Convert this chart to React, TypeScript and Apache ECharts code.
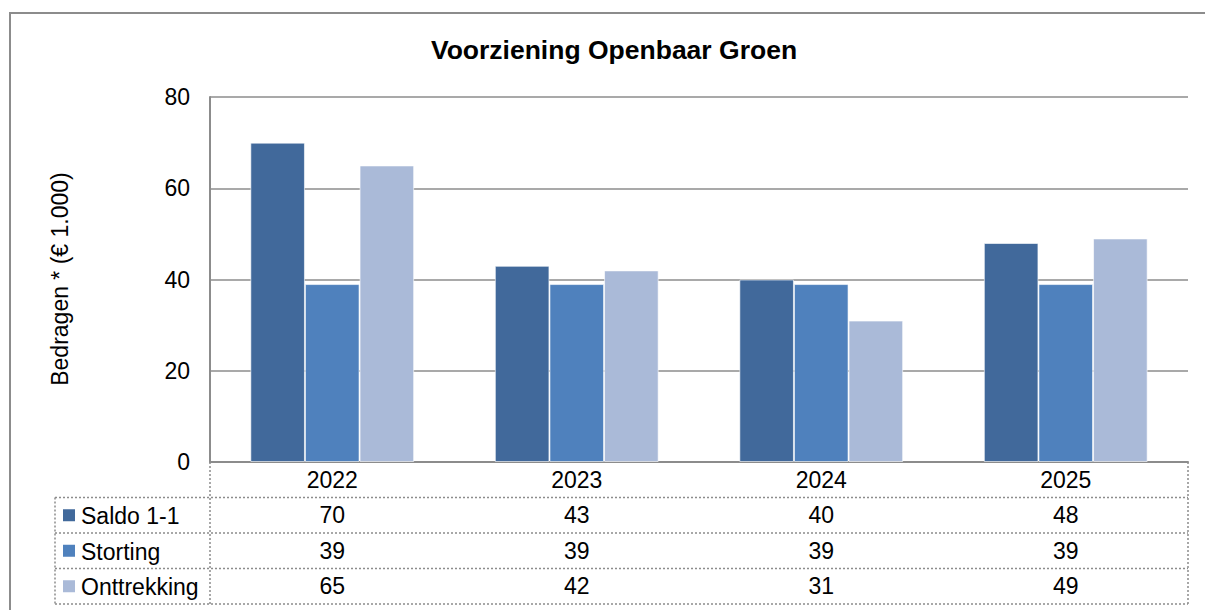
import React, { useEffect, useRef } from "react";
import * as echarts from "echarts";

const years = ["2022", "2023", "2024", "2025"];
const saldo = [70, 43, 40, 48];
const storting = [39, 39, 39, 39];
const onttrekking = [65, 42, 31, 49];
const seriesNames = ["Saldo 1-1", "Storting", "Onttrekking"];
const yTicks = { min: 0, max: 80, interval: 20 };
const chartTitle = "Voorziening Openbaar Groen";
const yAxisTitle = "Bedragen * (€ 1.000)";

const colors = ["#41699B", "#4F81BD", "#AABAD8"];
const FONT = "Liberation Sans, Arial, sans-serif";
const FS = 23;

export default function App() {
  const ref = useRef<HTMLDivElement>(null);
  useEffect(() => {
    if (!ref.current) return;
    const chart = echarts.init(ref.current, null, { renderer: "svg" });
    const values = [saldo, storting, onttrekking];
    const gridLeft = 210;
    const gridRight = 1188;
    const axisY = 462;
    const rowH = 35.5;
    const tableLeft = 55;
    const dotted = { stroke: "#8c8c8c", lineWidth: 1.5, lineDash: [2, 2] };

    const graphics: any[] = [
      {
        type: "rect",
        shape: { x: 10, y: 13, width: 1210, height: 620 },
        style: { fill: "none", stroke: "#8c8c8c", lineWidth: 2 },
        silent: true,
      },
      {
        type: "text",
        x: 614,
        y: 50,
        style: {
          text: chartTitle,
          font: `bold 26.5px ${FONT}`,
          fill: "#000",
          align: "center",
          verticalAlign: "middle",
        },
      },
      {
        type: "text",
        x: 60,
        y: 279,
        rotation: Math.PI / 2,
        style: {
          text: yAxisTitle,
          font: `${FS}px ${FONT}`,
          fill: "#000",
          align: "center",
          verticalAlign: "middle",
        },
      },
      { type: "line", shape: { x1: gridLeft, y1: axisY, x2: gridLeft, y2: axisY + 4 * rowH }, style: dotted },
      { type: "line", shape: { x1: gridRight, y1: axisY, x2: gridRight, y2: axisY + 4 * rowH }, style: dotted },
      { type: "line", shape: { x1: tableLeft, y1: axisY + rowH, x2: tableLeft, y2: axisY + 4 * rowH }, style: dotted },
    ];
    for (let r = 1; r <= 4; r++) {
      graphics.push({
        type: "line",
        shape: { x1: tableLeft, y1: axisY + r * rowH, x2: gridRight, y2: axisY + r * rowH },
        style: dotted,
      });
    }
    seriesNames.forEach((n, i) => {
      const cy = axisY + rowH * (i + 1) + rowH / 2;
      graphics.push({
        type: "rect",
        shape: { x: 63, y: cy - 6, width: 12, height: 12 },
        style: { fill: colors[i] },
      });
      graphics.push({
        type: "text",
        x: 81,
        y: cy + 1,
        style: { text: n, font: `${FS}px ${FONT}`, fill: "#000", verticalAlign: "middle" },
      });
    });

    const baseX = {
      type: "category",
      data: years,
      gridIndex: 0,
      position: "bottom",
      axisTick: { show: false },
      splitLine: { show: false },
    };
    const xAxes: any[] = [
      {
        ...baseX,
        axisLine: { show: true, lineStyle: { color: "#8c8c8c", width: 2 } },
        axisLabel: { margin: 6, fontSize: FS, fontFamily: FONT, color: "#000" },
      },
    ];
    values.forEach((arr, i) => {
      xAxes.push({
        ...baseX,
        offset: rowH * (i + 1),
        axisLine: { show: false },
        axisLabel: {
          margin: 6,
          fontSize: FS,
          fontFamily: FONT,
          color: "#000",
          formatter: (_v: string, idx: number) => String(arr[idx]),
        },
      });
    });

    chart.setOption({
      animation: false,
      grid: { left: gridLeft, right: 1205 - gridRight, top: 97, bottom: 610 - axisY },
      xAxis: xAxes,
      yAxis: {
        type: "value",
        min: yTicks.min,
        max: yTicks.max,
        interval: yTicks.interval,
        axisLine: { show: true, lineStyle: { color: "#8c8c8c", width: 2 } },
        axisTick: { show: false },
        axisLabel: { margin: 20, fontSize: FS, fontFamily: FONT, color: "#000" },
        splitLine: { show: true, lineStyle: { color: "#8c8c8c", width: 1.5 } },
      },
      series: values.map((arr, i) => ({
        name: seriesNames[i],
        type: "bar",
        data: arr,
        barGap: "0%",
        barCategoryGap: "33%",
        itemStyle: { color: colors[i], borderColor: "rgba(255,255,255,0.6)", borderWidth: 1 },
      })),
      graphic: graphics,
    });
    return () => chart.dispose();
  }, []);
  return (
    <div
      ref={ref}
      style={{ position: "fixed", left: 0, top: 0, width: 1205, height: 610, background: "#fff" }}
    />
  );
}
